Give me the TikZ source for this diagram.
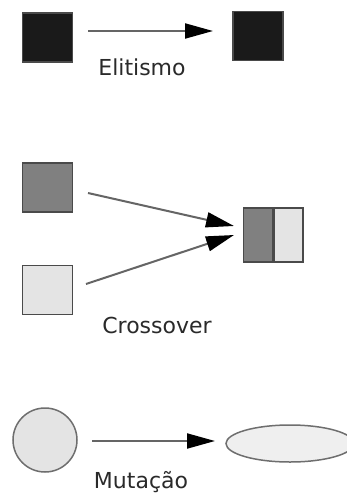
\documentclass[tikz,border=0pt]{standalone}
\usepackage{fontspec}
\setmainfont{DejaVu Sans}
\usetikzlibrary{arrows.meta,shapes.geometric}
\definecolor{edgegray}{HTML}{4A4A4A}
\definecolor{elitefill}{HTML}{1A1A1A}
\definecolor{darkfill}{HTML}{808080}
\definecolor{lightfill}{HTML}{E4E4E4}
\definecolor{labeltext}{HTML}{2A2A2A}
\begin{document}
\begin{tikzpicture}[x=1pt,y=-1pt,
  chrom/.style={draw=edgegray,line width=1.5pt,minimum width=50pt,minimum height=49pt,inner sep=0pt},
  half/.style={draw=edgegray,line width=1.5pt,minimum width=29pt,minimum height=54pt,inner sep=0pt},
  oper/.style={draw=edgegray!85,line width=2pt,
    -{Triangle[length=28pt,width=15pt,color=black,fill=black]}},
  oplabel/.style={text=labeltext,font=\fontsize{22}{26}\selectfont,inner sep=0pt}
]
\useasboundingbox[fill=white] (0,0) rectangle (347,494);

% Elitism: the best individual is copied unchanged
\node[chrom,fill=elitefill] (e1) at (47.5,37.5) {};
\node[chrom,fill=elitefill] (e2) at (258,36) {};
\coordinate (e1out) at (88,31);
\coordinate (e2in) at (213,31);
\draw[oper] (e1out) -- (e2in);
\node[oplabel] (elab) at (142,67) {Elitismo};

% Crossover: two parents combine into one child
\node[chrom,fill=darkfill] (p1) at (47.5,187.5) {};
\node[chrom,fill=lightfill] (p2) at (47.5,290) {};
\node[half,fill=darkfill,anchor=east] (c1) at (273,235) {};
\node[half,fill=lightfill,anchor=west] (c2) at (273,235) {};
\coordinate (p1out) at (88,193);
\coordinate (p2out) at (86,284);
\coordinate (c1in) at (234,226);
\coordinate (c2in) at (234,235);
\draw[oper] (p1out) -- (c1in);
\draw[oper] (p2out) -- (c2in);
\node[oplabel] (clab) at (157,325) {Crossover};

% Mutation: the individual's shape changes
\node[circle,draw=edgegray!80,line width=1.5pt,fill=lightfill,minimum size=64pt,inner sep=0pt] (m1) at (45,440) {};
\node[ellipse,draw=edgegray!80,line width=1.5pt,fill=lightfill!60,minimum width=128pt,minimum height=37pt,inner sep=0pt] (m2) at (290,443.5) {};
\coordinate (m1out) at (92,441);
\coordinate (m2in) at (215,441);
\draw[oper] (m1out) -- (m2in);
\node[oplabel] (mlab) at (141,482) {Mutação};
\end{tikzpicture}
\end{document}
